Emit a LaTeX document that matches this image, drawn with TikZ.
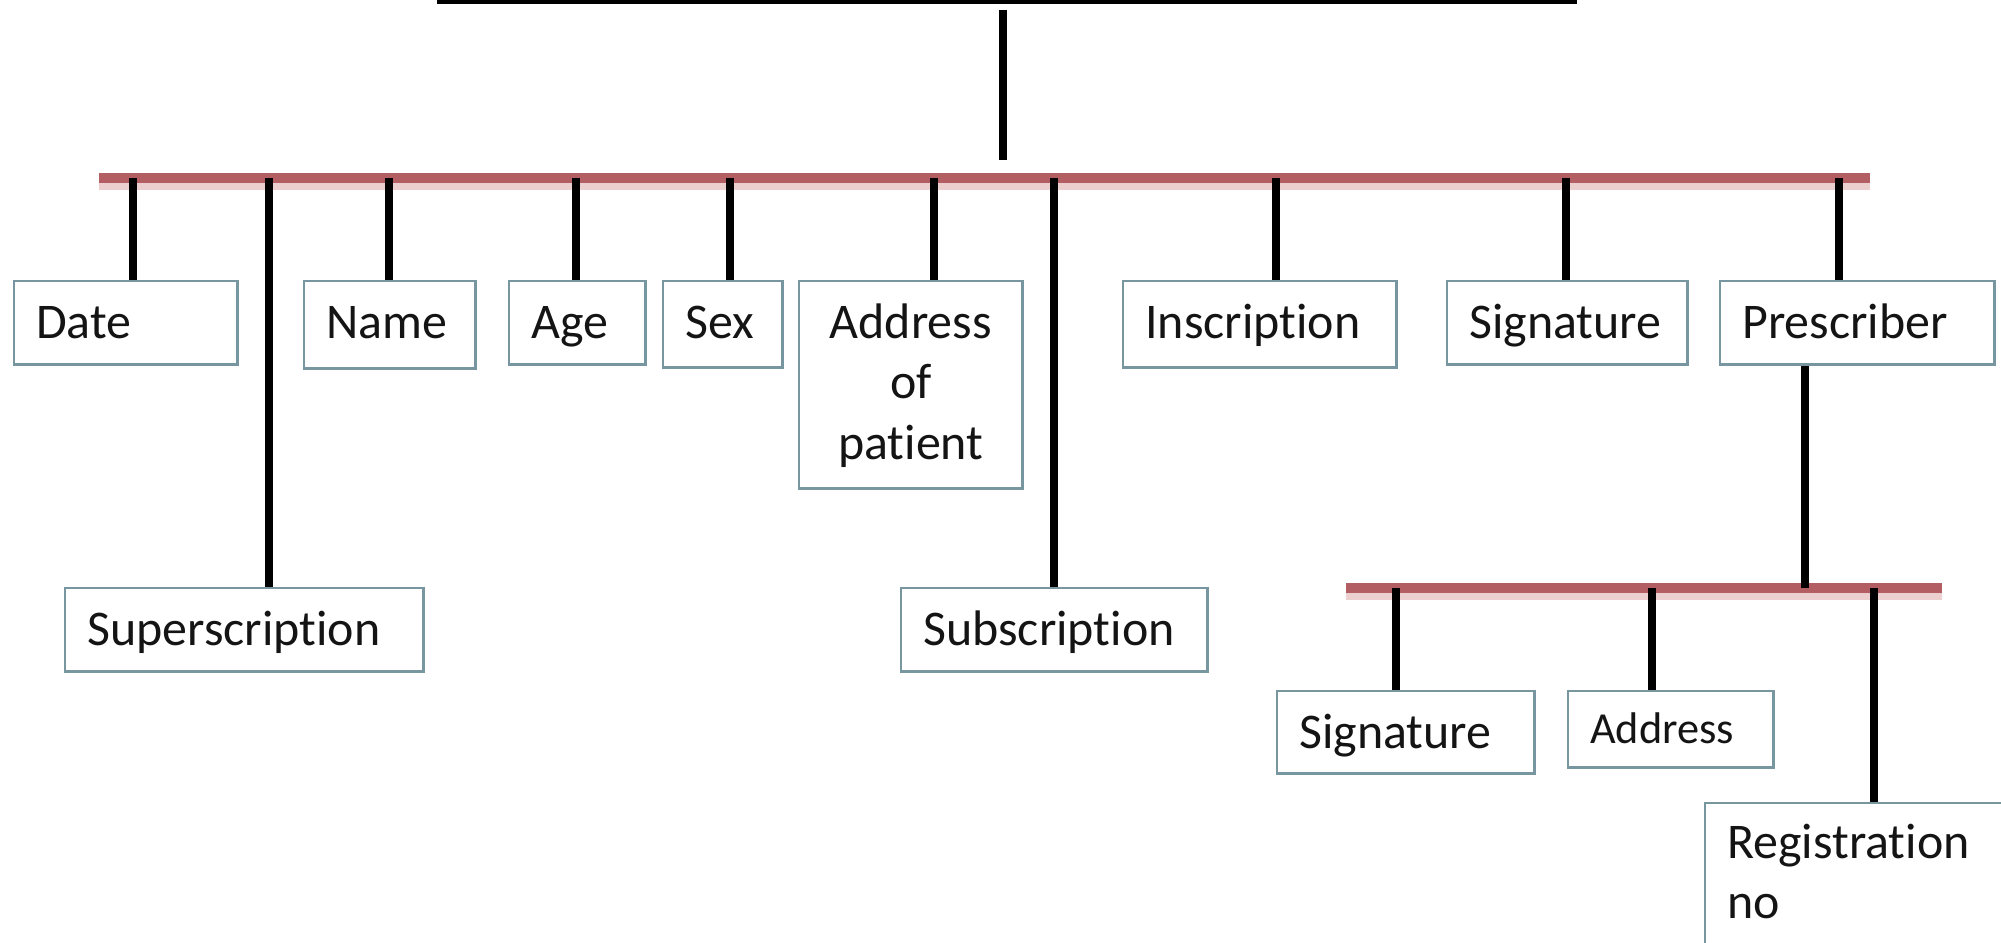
\documentclass[tikz,border=0pt]{standalone}
\usepackage{fontspec}
\setmainfont{Carlito}[Ligatures={NoCommon,NoRare}]
\usetikzlibrary{positioning}
\hyphenpenalty=10000
\exhyphenpenalty=10000

\definecolor{busred}{RGB}{178,94,98}
\definecolor{busshade}{RGB}{236,208,208}
\definecolor{boxline}{RGB}{120,150,160}
\definecolor{ink}{RGB}{20,20,20}

\begin{document}
\begin{tikzpicture}[x=0.01cm,y=-0.01cm,
  stem/.style={line width=2.3pt,black},
  bus/.style={line width=3pt,busred},
  part/.style={draw=boxline,line width=0.7pt,anchor=north west,align=left,
    inner xsep=0.22cm,inner ysep=0pt,text height=0.57cm,text=ink,
    font=\fontsize{14.2}{17.2}\selectfont}]
  \useasboundingbox (0,0) rectangle (2001,942);
  \clip (0,0) rectangle (2001,942);

  % heading box, cut by the top edge
  \node[draw,line width=2.5pt,anchor=south west,minimum width=11.31cm,
    minimum height=1.5cm,inner sep=0pt] (title) at (437,4) {};
  \coordinate (hubtop) at (1003,10);
  \coordinate (hub) at (1003,160);
  \draw[stem] (hubtop) -- (hub);

  % first row
  \node[part,text width=1.79cm,text depth=0.26cm] (date) at (13,280) {Date};
  \node[part,text width=3.14cm,text depth=0.26cm] (supers) at (64,587) {Superscription};
  \node[part,text width=1.27cm,text depth=0.30cm] (name) at (303,280) {Name};
  \node[part,text width=0.92cm,text depth=0.26cm] (age) at (508,280) {Age};
  \node[part,text width=0.75cm,text depth=0.29cm] (sex) at (662,280) {Sex};
  \node[part,align=center,text width=1.79cm,text depth=1.50cm] (addr) at (798,280) {Address\\of\\patient};
  \node[part,text width=2.62cm,text depth=0.26cm] (subs) at (900,587) {Subscription};
  \node[part,text width=2.29cm,text depth=0.29cm] (insc) at (1122,280) {Inscription};
  \node[part,text width=1.96cm,text depth=0.26cm] (sign) at (1446,280) {Signature};
  \node[part,text width=2.30cm,text depth=0.26cm] (presc) at (1719,280) {Prescriber};

  % prescriber row
  \node[part,text width=2.13cm,text depth=0.25cm] (psign) at (1276,690) {Signature};
  \node[part,text width=1.61cm,text height=0.52cm,text depth=0.24cm,
    font=\fontsize{12.6}{15}\selectfont] (paddr) at (1567,690) {Address};
  \node[part,text width=2.86cm,text height=0.55cm,text depth=1.0cm] (preg) at (1704,802) {Registration\\no};

  % main bus
  \coordinate (busL) at (99,178);
  \coordinate (busR) at (1870,178);
  \draw[busshade,line width=3pt,transform canvas={yshift=-2pt}] (busL) -- (busR);
  \draw[bus] (busL) -- (busR);
  \foreach \n/\x in {date/133,supers/269,name/389,age/576,sex/730,addr/934,
                     subs/1054,insc/1276,sign/1566,presc/1839}{
    \coordinate (t\n) at (\x,178);
    \draw[stem] (t\n) -- (t\n |- \n.north);
  }

  % prescriber bus
  \coordinate (subL) at (1346,588);
  \coordinate (subR) at (1942,588);
  \coordinate (tdown) at (1805,588);
  \draw[busshade,line width=3pt,transform canvas={yshift=-2pt}] (subL) -- (subR);
  \draw[bus] (subL) -- (subR);
  \draw[stem] (tdown |- presc.south) -- (tdown);
  \foreach \n/\x in {psign/1396,paddr/1652,preg/1874}{
    \coordinate (t\n) at (\x,588);
    \draw[stem] (t\n) -- (t\n |- \n.north);
  }
\end{tikzpicture}
\end{document}
